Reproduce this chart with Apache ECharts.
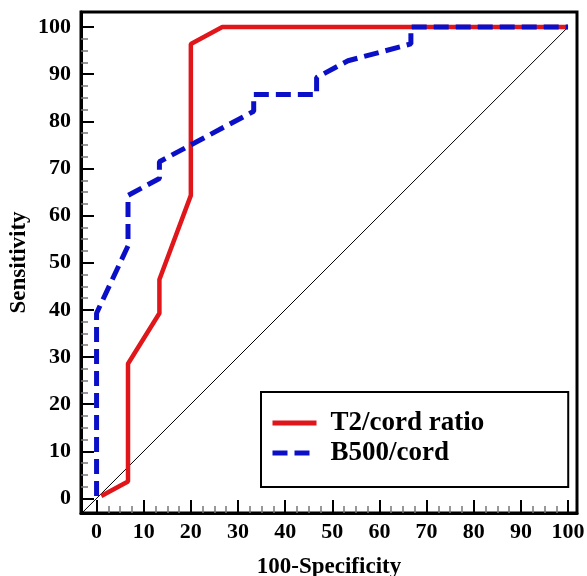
<!DOCTYPE html>
<html>
<head>
<meta charset="utf-8">
<script src="https://cdn.jsdelivr.net/npm/echarts@6/dist/echarts.min.js"></script>
<style>
  html, body { margin: 0; padding: 0; background: #fff; }
  #chart { width: 587px; height: 576px; }
</style>
</head>
<body>
<div id="chart"></div>
<script>
// ROC curves, [100-specificity, sensitivity]
const t2Cord = [
  [1, 0.5], [6.67, 3.57], [6.67, 28.57], [13.33, 39.29], [13.33, 46.43],
  [20, 64.29], [20, 96.43], [26.67, 100], [100, 100]
]
const b500Cord = [
  [0, 0.5], [0, 39.29], [6.67, 53.57], [6.67, 64.29], [13.33, 67.86],
  [13.33, 71.43], [33.33, 82.14], [33.33, 85.71], [46.67, 85.71], [46.67, 89.29],
  [53.33, 92.86], [60, 94.64], [66.67, 96.43], [66.67, 100], [100, 100]
]
const diagonal = [[-3.1, -3.1], [100, 100]]

const majorTicks = [0, 10, 20, 30, 40, 50, 60, 70, 80, 90, 100]
const minorTicks = [
  2.5, 5, 7.5, 12.5, 15, 17.5, 22.5, 25, 27.5, 32.5, 35, 37.5, 42.5, 45, 47.5,
  52.5, 55, 57.5, 62.5, 65, 67.5, 72.5, 75, 77.5, 82.5, 85, 87.5, 92.5, 95, 97.5
]

const serif = '"Liberation Serif", "DejaVu Serif", serif'
const xRange = { min: -3.3, max: 101.9 }
const yRange = { min: -3.1, max: 103.2 }

function axisPair(range, isX) {
  const main = {
    type: 'value',
    min: range.min,
    max: range.max,
    position: isX ? 'bottom' : 'left',
    axisLine: { show: true, onZero: false, lineStyle: { color: '#000', width: 3 } },
    axisTick: {
      show: true, inside: true, length: 13, customValues: majorTicks,
      lineStyle: { color: '#000', width: 2 }
    },
    axisLabel: {
      show: true, customValues: majorTicks, margin: isX ? 8 : 10,
      fontFamily: serif, fontWeight: 'bold', fontSize: 22, color: '#000'
    },
    splitLine: { show: false },
    name: isX ? '100-Specificity' : 'Sensitivity',
    nameLocation: 'middle',
    nameMoveOverlap: false,
    nameGap: isX ? 43 : 50,
    nameTextStyle: { fontFamily: serif, fontWeight: 'bold', fontSize: 23, color: '#000' }
  }
  const minor = {
    type: 'value',
    min: range.min,
    max: range.max,
    position: isX ? 'bottom' : 'left',
    axisLine: { show: false, onZero: false },
    axisTick: {
      show: true, inside: true, length: 7, customValues: minorTicks,
      lineStyle: { color: '#777', width: 1.5 }
    },
    axisLabel: { show: false },
    splitLine: { show: false }
  }
  return [main, minor]
}

const chart = echarts.init(document.getElementById('chart'))
chart.setOption({
  animation: false,
  backgroundColor: '#fff',
  grid: {
    left: 81, top: 12, right: 10, bottom: 63,
    outerBoundsMode: 'none',
    containLabel: false,
    show: true, borderColor: '#000', borderWidth: 3
  },
  xAxis: axisPair(xRange, true),
  yAxis: axisPair(yRange, false),
  legend: {
    data: ['T2/cord ratio', 'B500/cord'],
    orient: 'vertical',
    left: 261,
    top: 392,
    padding: [16, 84, 19, 9],
    itemGap: 0,
    itemWidth: 44,
    itemHeight: 14,
    itemTextGap: 17,
    borderColor: '#000',
    borderWidth: 2,
    backgroundColor: '#fff',
    itemStyle: { opacity: 0, borderWidth: 0 },
    lineStyle: { width: 5 },
    textStyle: {
      fontFamily: serif, fontWeight: 'bold', fontSize: 27, color: '#000',
      lineHeight: 30, padding: [0, 0, 0, 9]
    }
  },
  series: [
    {
      name: 'diagonal',
      type: 'line',
      data: diagonal,
      symbol: 'none',
      silent: true,
      lineStyle: { color: '#000', width: 1 }
    },
    {
      name: 'T2/cord ratio',
      type: 'line',
      data: t2Cord,
      symbol: 'none',
      color: '#e0161a',
      lineStyle: { color: '#e0161a', width: 4.5 }
    },
    {
      name: 'B500/cord',
      type: 'line',
      data: b500Cord,
      symbol: 'none',
      color: '#0b10c8',
      lineStyle: { color: '#0b10c8', width: 5, type: [15, 7] }
    }
  ]
})
</script>
</body>
</html>
